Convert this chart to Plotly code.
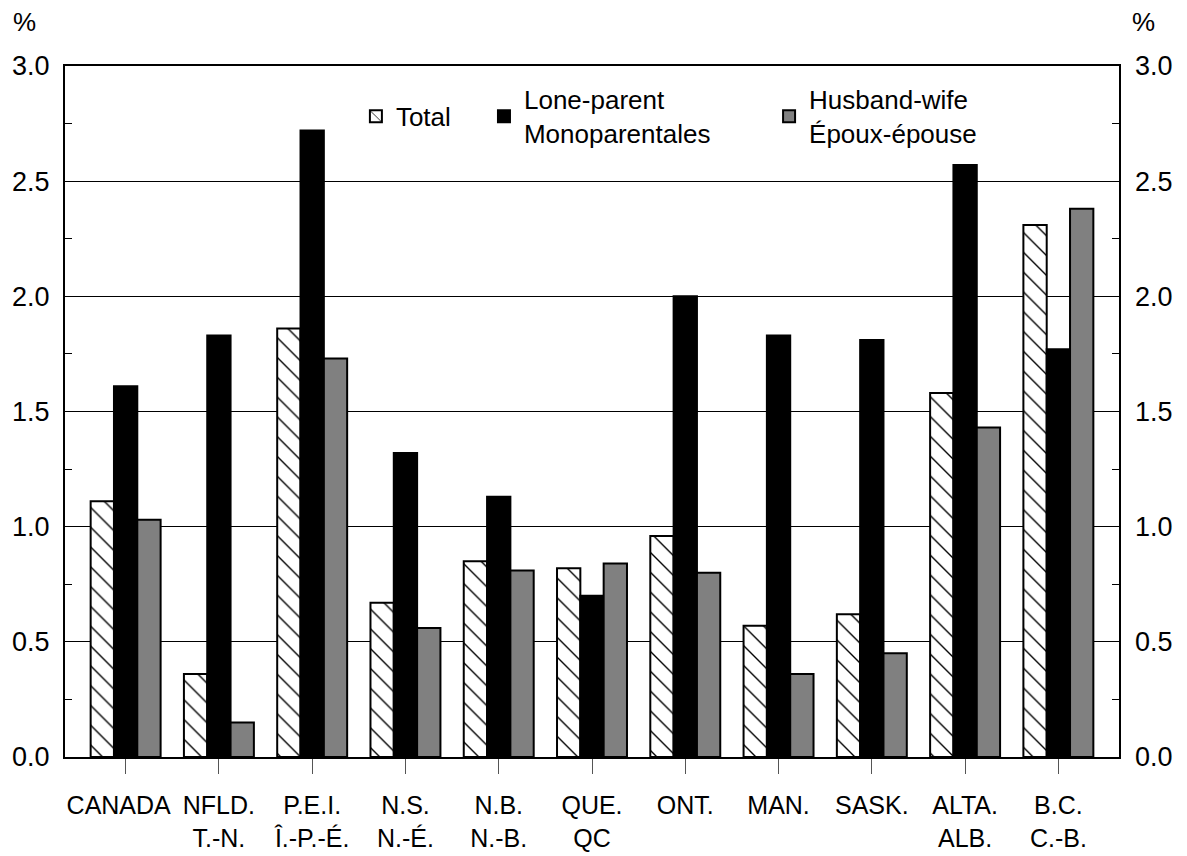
import plotly.graph_objects as go

categories = ["CANADA\u00a0\u00a0", "NFLD.<br>T.-N.", "P.E.I.<br>Î.-P.-É.", "N.S.<br>N.-É.", "N.B.<br>N.-B.",
              "QUE.<br>QC", "ONT.", "MAN.", "SASK.", "ALTA.<br>ALB.", "B.C.<br>C.-B."]
total = [1.11, 0.36, 1.86, 0.67, 0.85, 0.82, 0.96, 0.57, 0.62, 1.58, 2.31]
lone_parent = [1.61, 1.83, 2.72, 1.32, 1.13, 0.70, 2.00, 1.83, 1.81, 2.57, 1.77]
husband_wife = [1.03, 0.15, 1.73, 0.56, 0.81, 0.84, 0.80, 0.36, 0.45, 1.43, 2.38]
y_ticks = [0.0, 0.5, 1.0, 1.5, 2.0, 2.5, 3.0]
y_ticklabels = ["0.0", "0.5", "1.0", "1.5", "2.0", "2.5", "3.0"]

FONT = "Liberation Sans, Arial, sans-serif"
FS = 26
x_idx = list(range(len(categories)))

fig = go.Figure()
fig.add_trace(go.Bar(
    x=x_idx, y=total, name="Total", legend="legend",
    marker=dict(color="white", line=dict(color="black", width=2),
                pattern=dict(shape="\\", fgcolor="black", bgcolor="white", fgopacity=1,
                             size=14, solidity=0.1)),
))
fig.add_trace(go.Bar(
    x=x_idx, y=lone_parent, name="Lone-parent<br>Monoparentales", legend="legend2",
    marker=dict(color="black", line=dict(color="black", width=2)),
))
fig.add_trace(go.Bar(
    x=x_idx, y=husband_wife, name="Husband-wife<br>Époux-épouse", legend="legend3",
    marker=dict(color="#808080", line=dict(color="black", width=2)),
))
# invisible trace to activate right axis
fig.add_trace(go.Scatter(x=[0], y=[0], yaxis="y2", mode="markers",
                         marker=dict(opacity=0), showlegend=False, hoverinfo="skip"))

leg_common = dict(orientation="v", font=dict(family=FONT, size=FS, color="black"),
                  bgcolor="rgba(0,0,0,0)", xanchor="left", yanchor="middle",
                  itemclick=False, valign="middle")
fig.update_layout(
    width=1187, height=856,
    paper_bgcolor="white", plot_bgcolor="white",
    margin=dict(l=57, r=76, t=58, b=107, autoexpand=False),
    barmode="group", bargap=0.25, bargroupgap=0,
    font=dict(family=FONT, size=FS, color="black"),
    legend=dict(x=0.276, y=0.927, **leg_common),
    legend2=dict(x=0.3975, y=0.927, **leg_common),
    legend3=dict(x=0.668, y=0.927, **leg_common),
    xaxis=dict(
        range=[-0.65, len(categories) - 1 + 0.65],
        tickmode="array", tickvals=x_idx, ticktext=categories, tickangle=0,
        ticks="outside", ticklen=15, tickcolor="#555", tickwidth=1,
        showline=True, linecolor="black", linewidth=2, mirror=True,
        showgrid=False, zeroline=False, automargin=False, ticklabelstandoff=10,
        tickfont=dict(family=FONT, size=25, color="black"),
    ),
    yaxis=dict(
        range=[0, 3], tickmode="array", tickvals=y_ticks, ticktext=y_ticklabels,
        ticks="inside", ticklen=7, tickcolor="black",
        minor=dict(dtick=0.25, tick0=0, ticks="inside", ticklen=7, tickcolor="black", showgrid=False),
        showgrid=True, gridcolor="black", gridwidth=1,
        showline=True, linecolor="black", linewidth=2, mirror=True,
        zeroline=False, ticklabelstandoff=8, automargin=False,
        tickfont=dict(family=FONT, size=27, color="black"),
    ),
    yaxis2=dict(
        range=[0, 3], overlaying="y", side="right",
        tickmode="array", tickvals=y_ticks, ticktext=y_ticklabels,
        ticks="inside", ticklen=7, tickcolor="black",
        minor=dict(dtick=0.25, tick0=0, ticks="inside", ticklen=7, tickcolor="black", showgrid=False),
        showgrid=False, showline=False, zeroline=False, ticklabelstandoff=15, automargin=False,
        tickfont=dict(family=FONT, size=27, color="black"),
    ),
    annotations=[
        dict(text="%", xref="paper", yref="paper", x=-0.038, y=1.063, xanchor="center", yanchor="middle",
             showarrow=False, font=dict(family=FONT, size=FS, color="black")),
        dict(text="%", xref="paper", yref="paper", x=1.0237, y=1.063, xanchor="center", yanchor="middle",
             showarrow=False, font=dict(family=FONT, size=FS, color="black")),
    ],
)

fig.write_html("out.html")
